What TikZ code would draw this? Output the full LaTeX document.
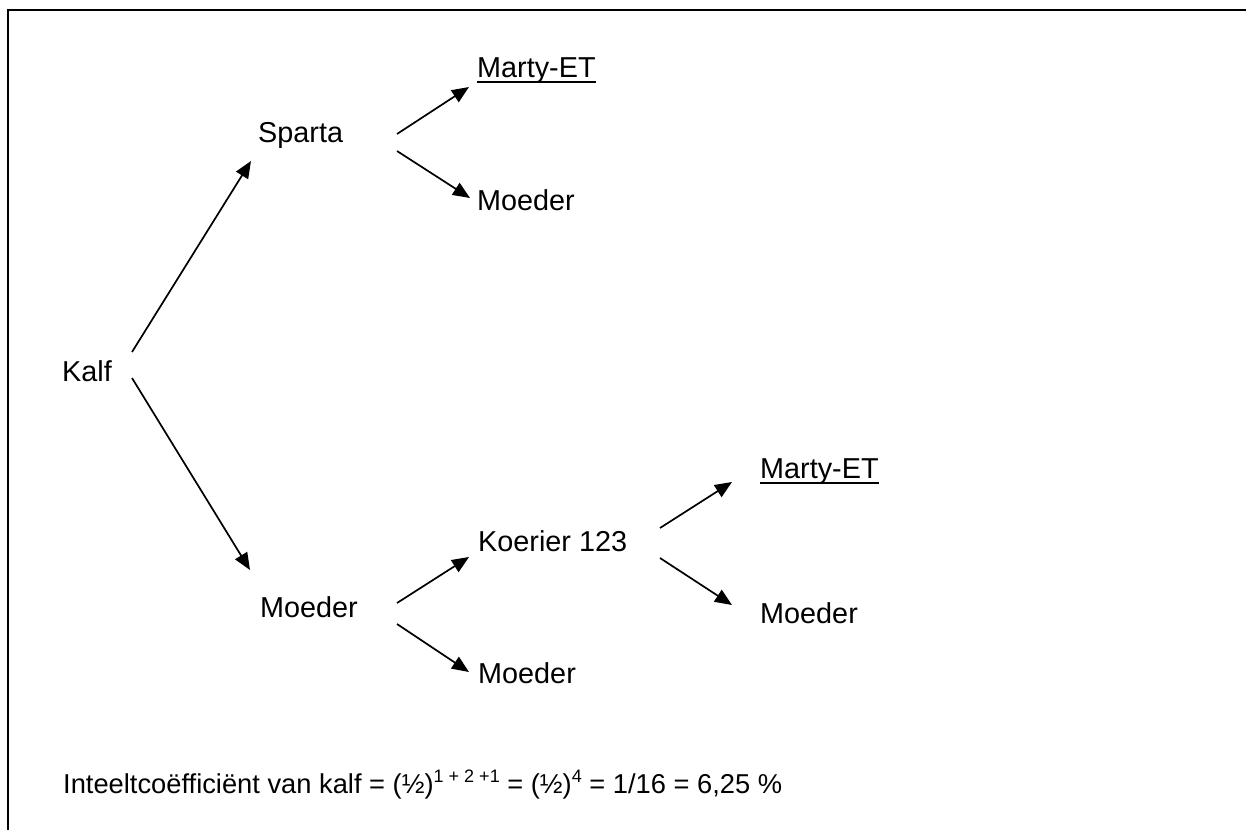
\documentclass[tikz,border=0pt]{standalone}
\usepackage{fontspec}
\setmainfont{Liberation Sans}
\usetikzlibrary{arrows.meta}
\newcommand\myul[1]{\setbox0\hbox{#1}\rlap{\rule[-5.5pt]{\wd0}{1.8pt}}#1}
\begin{document}
\begin{tikzpicture}[x=1pt,y=-1pt,
  lbl/.style={anchor=base west,inner sep=0pt,font=\fontsize{28.8}{34}\selectfont},
  arr/.style={line width=1.7pt,-{Triangle[length=17pt,width=14pt]}},
  frame/.style={line width=2.8pt}]
\useasboundingbox (0,0) rectangle (1246,830);
\draw[frame] (8,830) -- (8,10) -- (1246,10);
% nodes
\node[lbl] (kalf) at (62,381) {Kalf};
\node[lbl] (sparta) at (258,142) {Sparta};
\node[lbl] (marty1) at (477,77) {\myul{Marty-ET}};
\node[lbl] (moeder1) at (477,210) {Moeder};
\node[lbl] (moeder2) at (260,617) {Moeder};
\node[lbl] (koerier) at (478,551) {Koerier 123};
\node[lbl] (moeder3) at (478,683) {Moeder};
\node[lbl] (marty2) at (760,478) {\myul{Marty-ET}};
\node[lbl] (moeder4) at (760,623) {Moeder};
\node[lbl,font=\fontsize{27.3}{32}\selectfont] (formula) at (63,793) {Inteeltcoëfficiënt van kalf = (½)\raisebox{11pt}{\fontsize{18}{22}\selectfont 1 + 2 +1} = (½)\raisebox{11pt}{\fontsize{18}{22}\selectfont 4} = 1/16 = 6,25 \%};
% connector end points
\coordinate (k1) at (132,352);
\coordinate (k2) at (132,378);
\coordinate (s-in) at (251,161);
\coordinate (m2-in) at (250,570);
\coordinate (s1) at (397,134);
\coordinate (s2) at (397,151);
\coordinate (mt1-in) at (469,87);
\coordinate (m1-in) at (470,198);
\coordinate (d1) at (397,603);
\coordinate (d2) at (397,624);
\coordinate (ko-in) at (469,557);
\coordinate (m3-in) at (469,672);
\coordinate (ko1) at (660,528);
\coordinate (ko2) at (660,558);
\coordinate (mt2-in) at (732,482);
\coordinate (m4-in) at (732,605);
% connectors
\draw[arr] (k1) -- (s-in);
\draw[arr] (k2) -- (m2-in);
\draw[arr] (s1) -- (mt1-in);
\draw[arr] (s2) -- (m1-in);
\draw[arr] (d1) -- (ko-in);
\draw[arr] (d2) -- (m3-in);
\draw[arr] (ko1) -- (mt2-in);
\draw[arr] (ko2) -- (m4-in);
\end{tikzpicture}
\end{document}
